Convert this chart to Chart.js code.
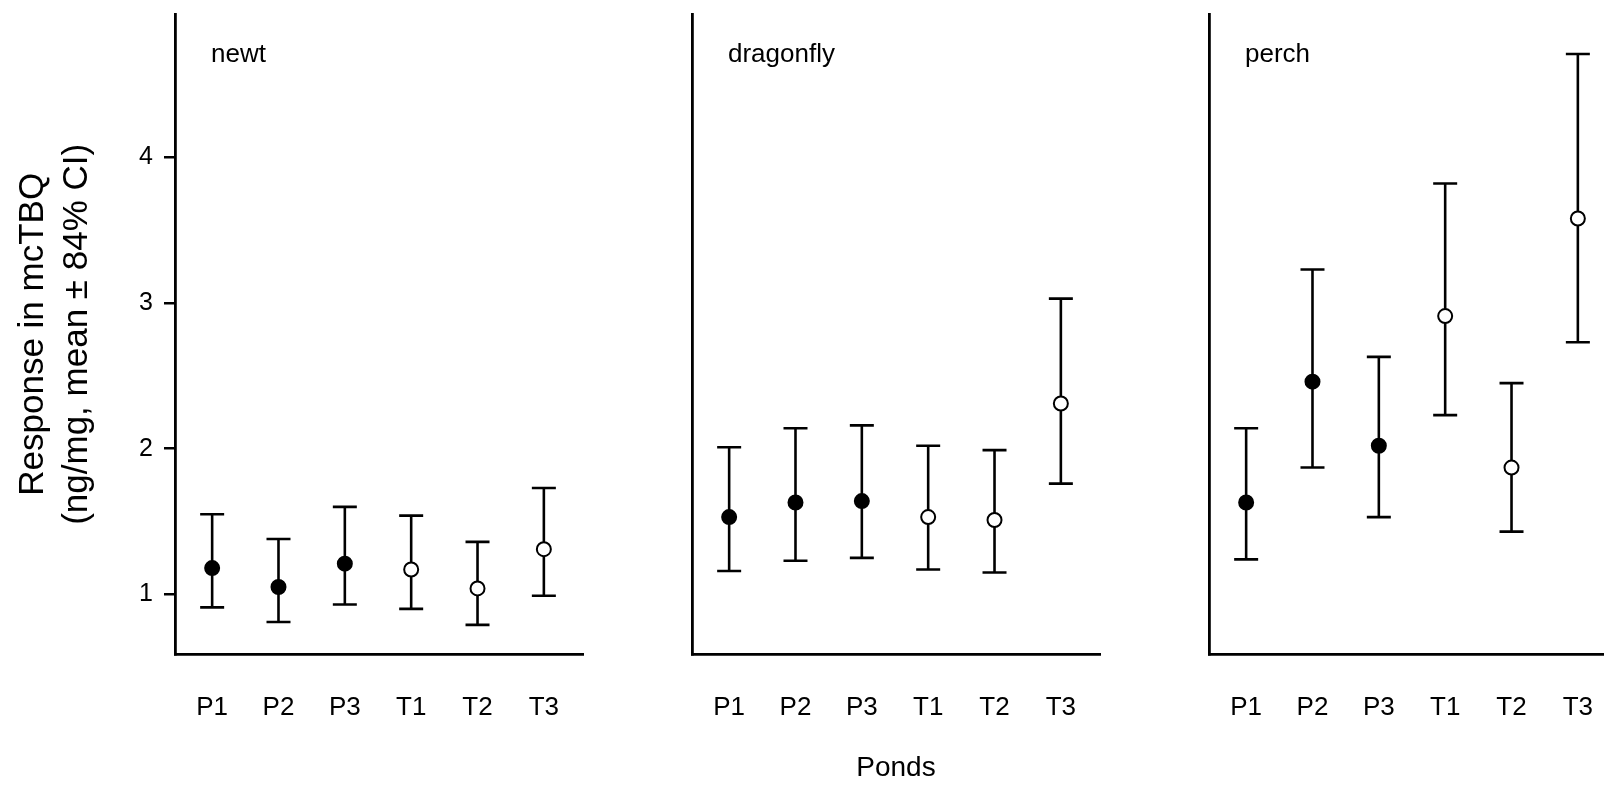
<!DOCTYPE html>
<html lang="en">
<head>
  <meta charset="UTF-8">
  <title>Response in mcTBQ by pond</title>
  <script src="https://cdn.jsdelivr.net/npm/chart.js"></script>
  <style>
    body { margin: 0; background: #fff; overflow: hidden; }
    #wrap { position: relative; width: 1604px; height: 789px; overflow: hidden; }
    canvas { position: absolute; top: 0; }
  </style>
</head>
<body>
<div id="wrap">
  <canvas id="newtChart" width="600" height="789" style="left:0px"></canvas>
  <canvas id="dragonflyChart" width="517" height="789" style="left:600px"></canvas>
  <canvas id="perchChart" width="517" height="789" style="left:1117px"></canvas>
</div>

<script>
  const ponds = ['P1', 'P2', 'P3', 'T1', 'T2', 'T3'];
  const yTicks = [1, 2, 3, 4];

  const newtMean = [1.18, 1.05, 1.21, 1.17, 1.04, 1.31];
  const newtLow  = [0.91, 0.81, 0.93, 0.90, 0.79, 0.99];
  const newtHigh = [1.55, 1.38, 1.60, 1.54, 1.36, 1.73];

  const dragonflyMean = [1.53, 1.63, 1.64, 1.53, 1.51, 2.31];
  const dragonflyLow  = [1.16, 1.23, 1.25, 1.17, 1.15, 1.76];
  const dragonflyHigh = [2.01, 2.14, 2.16, 2.02, 1.99, 3.03];

  const perchMean = [1.63, 2.46, 2.02, 2.91, 1.87, 3.58];
  const perchLow  = [1.24, 1.87, 1.53, 2.23, 1.43, 2.73];
  const perchHigh = [2.14, 3.23, 2.63, 3.82, 2.45, 4.71];

  const FONT = '"Liberation Sans", Arial, sans-serif';
  Chart.defaults.font.family = FONT;
  Chart.defaults.color = '#000';

  // draws the species name in the top left corner of the plot area
  const panelLabel = {
    id: 'panelLabel',
    afterDraw(chart, args, opts) {
      const { ctx, chartArea } = chart;
      ctx.save();
      ctx.font = '26px ' + FONT;
      ctx.fillStyle = '#000';
      ctx.textBaseline = 'alphabetic';
      ctx.fillText(opts.text, chartArea.left + 36, chartArea.top + 47);
      ctx.restore();
    }
  };

  function makePanel(id, name, mean, low, high, first, withXTitle) {
    // vertical CI lines, broken by null points
    const whiskers = [];
    ponds.forEach((p, i) => {
      whiskers.push({ x: i, y: low[i] }, { x: i, y: high[i] }, { x: i, y: null });
    });
    const caps = [];
    ponds.forEach((p, i) => {
      caps.push({ x: i, y: low[i] }, { x: i, y: high[i] });
    });

    return new Chart(document.getElementById(id), {
      data: {
        datasets: [
          {
            type: 'scatter',
            data: mean.map((v, i) => ({ x: i, y: v })),
            pointRadius: 7,
            pointHoverRadius: 7,
            pointBackgroundColor: ponds.map(p => p[0] === 'T' ? '#fff' : '#000'),
            pointBorderColor: '#000',
            pointBorderWidth: 2
          },
          {
            type: 'scatter',
            data: caps,
            pointStyle: 'line',
            pointRadius: 12,
            pointHoverRadius: 12,
            pointBorderColor: '#000',
            pointBorderWidth: 2.6
          },
          {
            type: 'line',
            data: whiskers,
            borderColor: '#000',
            borderWidth: 2.6,
            borderCapStyle: 'butt',
            pointRadius: 0,
            spanGaps: false
          }
        ]
      },
      options: {
        responsive: false,
        animation: false,
        events: [],
        layout: { padding: { top: 13, right: 17, bottom: 0, left: 0 } },
        plugins: {
          legend: { display: false },
          tooltip: { enabled: false },
          panelLabel: { text: name }
        },
        scales: {
          x: {
            type: 'linear',
            min: -0.56,
            max: 5.59,
            afterBuildTicks: a => { a.ticks = ponds.map((p, i) => ({ value: i })); },
            afterFit: s => { s.height = 135; s.paddingLeft = 0; s.paddingRight = 0; },
            ticks: {
              callback: v => ponds[v],
              font: { size: 26 },
              padding: 38,
              maxRotation: 0,
              autoSkip: false
            },
            grid: { display: false, drawTicks: false },
            border: { display: true, color: '#000', width: 2.8 },
            title: {
              display: withXTitle,
              text: 'Ponds',
              font: { size: 28 },
              padding: { top: 0, bottom: 4 }
            }
          },
          y: {
            min: 0.59,
            max: 4.98,
            afterBuildTicks: a => { a.ticks = yTicks.map(v => ({ value: v })); },
            afterFit: s => { s.width = first ? 175 : 92; s.paddingTop = 0; s.paddingBottom = 0; },
            ticks: {
              display: first,
              font: { size: 25 },
              padding: 11
            },
            grid: {
              drawOnChartArea: false,
              drawTicks: first,
              tickLength: 11,
              color: '#000',
              lineWidth: 2.5
            },
            border: { display: true, color: '#000', width: 2.8 },
            title: {
              display: first,
              text: ['Response in mcTBQ', '(ng/mg, mean \u00b1 84% CI)'],
              font: { size: 35, lineHeight: 1.26 },
              padding: { top: 11, bottom: 0 }
            }
          }
        }
      },
      plugins: [panelLabel]
    });
  }

  makePanel('newtChart', 'newt', newtMean, newtLow, newtHigh, true, false);
  makePanel('dragonflyChart', 'dragonfly', dragonflyMean, dragonflyLow, dragonflyHigh, false, true);
  makePanel('perchChart', 'perch', perchMean, perchLow, perchHigh, false, false);
</script>
</body>
</html>
